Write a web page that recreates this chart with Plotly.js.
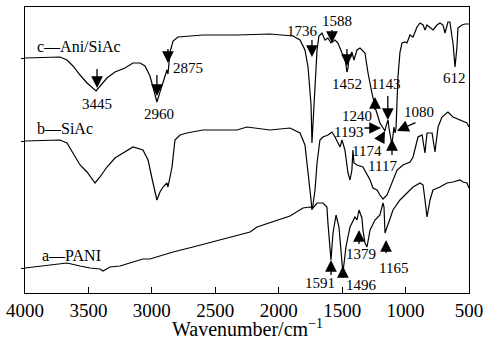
<!DOCTYPE html>
<html><head><meta charset="utf-8">
<script src="https://cdn.plot.ly/plotly-3.0.1.min.js"></script>
<style>html,body{margin:0;padding:0;background:#fff}#chart{width:488px;height:343px}</style>
</head><body><div id="chart"></div>
<script>
// Curve c — Ani/SiAc (wavenumber cm^-1, transmittance a.u., offset)
var wnC = [4000,3724,3669,3622,3566,3511,3440,3409,3354,3291,3212,3149,3093,3054,3015,2991,2960,2936,2912,2896,2881,2873,2857,2833,2794,2597,2329,2069,1887,1832,1793,1769,1745,1738,1730,1714,1698,1683,1659,1635,1612,1588,1556,1533,1501,1478,1462,1454,1446,1423,1407,1383,1359,1320,1296,1265,1241,1202,1178,1162,1154,1138,1131,1115,1107,1099,1091,1083,1075,1067,1060,1044,1028,1004,989,965,941,910,886,862,847,831,807,784,752,729,705,689,666,650,634,626,610,595,587,555,532,500];
var tC  = [235,236,233,227,218,210,202,207,215,221,225,230,230,227,217,206,191,201,211,217,223,219,241,252,256,258,258,259,257,253,243,226,188,150,168,203,243,257,260,253,255,250,253,250,240,235,221,225,235,241,233,243,245,240,220,200,186,170,165,162,167,173,165,150,148,158,166,160,165,193,216,241,250,251,250,258,256,266,270,268,263,268,265,263,268,270,268,260,271,271,256,250,226,246,265,268,269,269];
// Curve b — SiAc
var wnB = [4000,3724,3669,3622,3566,3511,3448,3409,3354,3291,3212,3149,3070,3030,2991,2960,2936,2912,2881,2873,2841,2818,2778,2723,2597,2463,2329,2250,2069,1911,1832,1793,1769,1745,1738,1730,1714,1698,1675,1651,1612,1580,1556,1517,1501,1478,1454,1438,1423,1415,1407,1383,1336,1304,1280,1257,1225,1202,1178,1146,1107,1067,1020,965,941,902,870,847,831,791,768,744,713,666,626,571,516,500];
var tB  = [152,153,150,140,128,121,110,116,126,135,141,146,143,133,110,93,101,106,110,106,126,153,158,160,163,163,163,166,163,165,160,148,123,93,83,88,103,130,153,156,158,161,156,146,153,143,120,113,123,143,130,128,126,118,113,105,103,98,94,98,110,123,128,131,136,156,158,140,160,160,141,166,176,181,176,173,170,166];
// Curve a — PANI
var wnA = [4000,3669,3566,3488,3409,3385,3330,3251,3149,3070,3015,2936,2833,2676,2518,2360,2226,2171,2045,1911,1809,1753,1730,1698,1651,1620,1612,1596,1588,1572,1548,1525,1501,1494,1470,1438,1399,1383,1367,1344,1336,1320,1304,1280,1241,1202,1178,1170,1162,1146,1123,1099,1044,989,941,886,862,847,831,807,784,729,673,626,571,547,516,500];
var tA  = [25,30,27,25,24,22,26,27,31,34,34,37,41,46,51,56,61,66,71,77,85,86,85,90,90,86,70,43,33,60,78,66,33,20,46,66,76,73,83,75,63,50,46,63,73,78,90,86,60,66,76,83,93,100,106,110,108,93,76,93,103,106,110,111,113,111,110,105];

var curveLabels = ['c\u2014Ani/SiAc', 'b\u2014SiAc', 'a\u2014PANI'];
var baselineTicks = [235, 152, 25];
var xTicks = [4000,3500,3000,2500,2000,1500,1000,500];
var xTitle = 'Wavenumber/cm<sup>\u22121</sup>';

// peak labels: text, label x, label y, arrow head x, head y, tail x, tail y (null = no arrow)
var peaks = [
  ['3445',3432,189, 3432,205,3432,226],
  ['2960',2944,179, 2960,197,2960,220],
  ['2875',2715,225, 2873,230,2873,246],
  ['1736',1816,262, 1738,236,1738,255],
  ['1588',1540,272, 1580,250,1580,265],
  ['1452',1462,209, 1462,227,1462,246],
  ['1143',1162,209, 1140,173,1140,199],
  ['1240',1383,177, 1241,196,1241,181],
  ['1193',1446,161, 1194,165,1336,165],
  ['1080',894,181,  1067,162,910,171],
  ['1174',1304,142, 1162,162,1210,151],
  ['1117',1178,127, 1107,154,1107,136],
  ['612',618,215,   null,null,null,null],
  ['1591',1675,10,  1588,33,1588,16],
  ['1496',1351,8,   1494,27,1494,13],
  ['1379',1351,39,  1367,63,1367,47],
  ['1165',1099,25,  1154,53,1154,38]
];

var serif = '"Times New Roman", "Liberation Serif", serif';
var line = {color:'#000', width:1.2};
var traces = [
  {x:wnC, y:tC, mode:'lines', line:line, hoverinfo:'skip'},
  {x:wnB, y:tB, mode:'lines', line:line, hoverinfo:'skip'},
  {x:wnA, y:tA, mode:'lines', line:line, hoverinfo:'skip'}
];

var ann = [];
var labelPos = [[3921,247],[3921,165],[3882,38]];
curveLabels.forEach(function(t,i){
  ann.push({text:t, x:labelPos[i][0], y:labelPos[i][1], xref:'x', yref:'y', xanchor:'left', yanchor:'middle', showarrow:false, font:{family:serif, size:16, color:'#000'}});
});
peaks.forEach(function(p){
  ann.push({text:p[0], x:p[1], y:p[2], xref:'x', yref:'y', showarrow:false, xanchor:'center', yanchor:'middle', font:{family:serif, size:15, color:'#000'}});
  if (p[3] !== null) {
    ann.push({text:' ', x:p[3], y:p[4], ax:p[5], ay:p[6], xref:'x', yref:'y', axref:'x', ayref:'y', showarrow:true, arrowhead:2, arrowsize:1.8, arrowwidth:1.3, arrowcolor:'#000', standoff:0, startstandoff:0, font:{size:1}});
  }
});
// x-axis title
ann.push({text:xTitle, xref:'paper', yref:'paper', x:0.5, y:-0.124, xanchor:'center', yanchor:'middle', showarrow:false, font:{family:serif, size:20, color:'#000'}});

var layout = {
  width:488, height:343,
  margin:{l:25, r:19, t:7, b:50},
  paper_bgcolor:'#fff', plot_bgcolor:'#fff',
  showlegend:false,
  xaxis:{range:[4000,500], tickvals:xTicks, ticktext:xTicks.map(String), ticks:'inside', ticklen:6, tickcolor:'#000', tickwidth:1,
         showline:true, mirror:true, linecolor:'#000', linewidth:1.2, showgrid:false, zeroline:false,
         tickfont:{family:serif, size:19, color:'#000'}},
  yaxis:{range:[0,286], tickvals:baselineTicks, ticks:'outside', ticklen:3, tickcolor:'#000', showticklabels:false,
         showline:true, mirror:true, linecolor:'#000', linewidth:1.2, showgrid:false, zeroline:false},
  annotations:ann
};
Plotly.newPlot('chart', traces, layout, {staticPlot:true});
</script></body></html>
